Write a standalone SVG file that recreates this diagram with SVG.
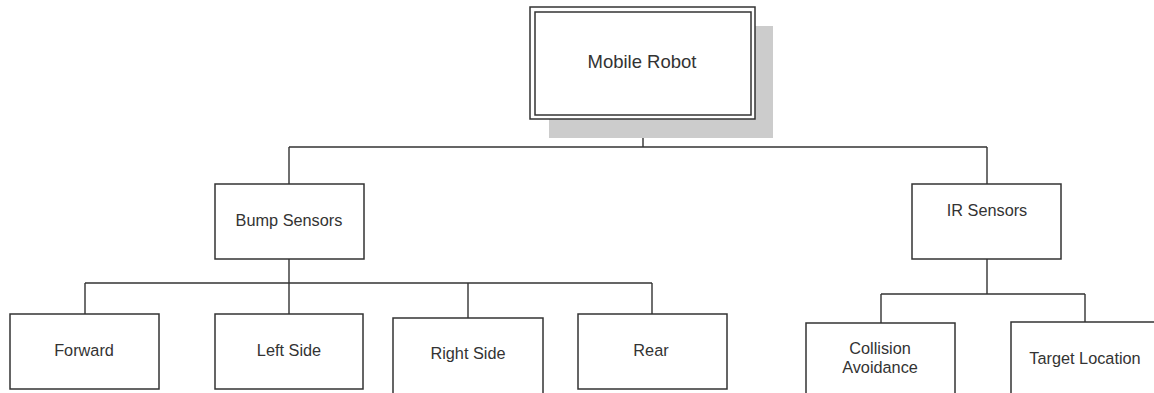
<svg xmlns="http://www.w3.org/2000/svg" width="1154" height="393" viewBox="0 0 1154 393">
<style>
.box{fill:#fff;stroke:#333;stroke-width:1.5}
.t{font-family:"Liberation Sans",Arial,sans-serif;font-size:16.3px;fill:#333;text-anchor:middle}
.c{fill:none;stroke:#333;stroke-width:1.4}
</style>
<rect width="1154" height="393" fill="#fff"/>
<g id="connectors">
<path class="c" d="M643 119V147M289 147H987M289 147V184M987 147V184"/>
<path class="c" d="M289 259V283" stroke-width="2.2"/>
<path class="c" d="M85 283H652M85 283V314M289 283V314M468 283V318M652 283V314"/>
<path class="c" d="M987 259V294M881 294H1085M881 294V323M1085 294V322"/>
</g>
<g id="mobile-robot">
<rect x="549" y="26" width="224" height="112" fill="#cccccc"/>
<rect class="box" x="530" y="7" width="225" height="112"/>
<rect x="535" y="12" width="216" height="103" fill="none" stroke="#333" stroke-width="1.5"/>
<text class="t" x="642" y="68" style="font-size:18.5px">Mobile Robot</text>
</g>
<g id="bump-sensors">
<rect class="box" x="215" y="184" width="149" height="75"/>
<text class="t" x="289" y="226">Bump Sensors</text>
</g>
<g id="ir-sensors">
<rect class="box" x="912" y="184" width="149" height="75"/>
<text class="t" x="987" y="216">IR Sensors</text>
</g>
<g id="forward">
<rect class="box" x="10" y="314" width="149" height="75"/>
<text class="t" x="84" y="356">Forward</text>
</g>
<g id="left-side">
<rect class="box" x="215" y="314" width="148" height="75"/>
<text class="t" x="289" y="356">Left Side</text>
</g>
<g id="right-side">
<rect class="box" x="393" y="318" width="150" height="80"/>
<text class="t" x="468" y="359">Right Side</text>
</g>
<g id="rear">
<rect class="box" x="578" y="314" width="149" height="75"/>
<text class="t" x="651" y="356">Rear</text>
</g>
<g id="collision-avoidance">
<rect class="box" x="806" y="323" width="149" height="80"/>
<text class="t" x="880" y="354">Collision</text>
<text class="t" x="880" y="373">Avoidance</text>
</g>
<g id="target-location">
<rect class="box" x="1011" y="322" width="150" height="80"/>
<text class="t" x="1085" y="364">Target Location</text>
</g>
</svg>
